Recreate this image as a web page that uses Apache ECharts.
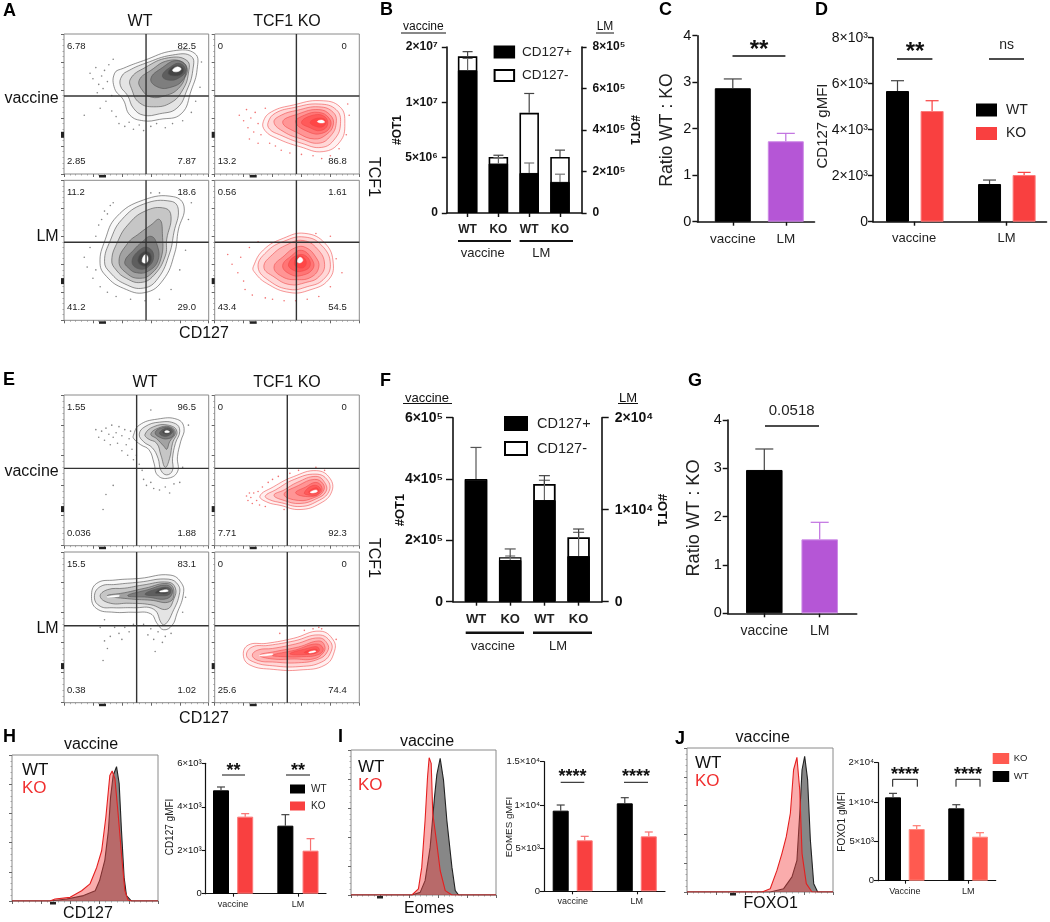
<!DOCTYPE html>
<html><head><meta charset="utf-8">
<style>html,body{margin:0;padding:0;background:#fff}#c{width:1050px;height:922px}</style>
<script src="https://cdn.jsdelivr.net/npm/echarts@6/dist/echarts.min.js"></script>
</head><body><div id="c"></div>
<script>
// ---------- bar data ----------
const bVacPos=[1.29e7,0.447e7], bVacNeg=[0.126e7,0.06e7], bVacPosErr=[1.397e7,0.5e7], bVacTotErr=[1.458e7,0.522e7];
const bLmPos=[1.93e5,1.5e5], bLmNeg=[2.9e5,1.2e5], bLmPosErr=[2.41e5,1.87e5], bLmTotErr=[5.76e5,3.03e5];
const bLeftTicks=['0','5×10⁶','1×10⁷','2×10⁷'], bRightTicks=['0','2×10⁵','4×10⁵','6×10⁵','8×10⁵'];
const cVals=[2.87,1.73], cErr=[3.07,1.9];
const dWT=[5681,1638], dWTErr=[6130,1811], dKO=[4812,2029], dKOErr=[5260,2145];
const dTicks=['0','2×10³','4×10³','6×10³','8×10³'];
const fVacPos=[3.98e5,1.36e5], fVacNeg=[0.02e5,0.09e5], fVacPosErr=[4.0e5,1.49e5], fVacTotErr=[5.03e5,1.72e5];
const fLmPos=[1.105e4,0.496e4], fLmNeg=[0.174e4,0.204e4], fLmPosErr=[1.32e4,0.754e4], fLmTotErr=[1.37e4,0.79e4];
const fLeftTicks=['0','2×10⁵','4×10⁵','6×10⁵'], fRightTicks=['0','1×10⁴','2×10⁴'];
const gVals=[2.966,1.53], gErr=[3.4,1.883];
const hWT=[4757,3130], hWTErr=[4910,3637], hKO=[3545,1980], hKOErr=[3683,2532];
const hTicks=['0','2×10³','4×10³','6×10³'];
const iWT=[9332,10180], iWTErr=[9987,10835], iKO=[5900,6362], iKOErr=[6362,6864];
const iTicks=['0','5×10³','1×10⁴','1.5×10⁴'];
const jWT=[10593,9195], jWTErr=[11102,9661], jKO=[6568,5593], jKOErr=[6992,6102];
const jTicks=['0','5×10³','1×10⁴','2×10⁴'];
// ---------- histogram data (fluorescence %, count %) ----------
const hWtHist=[[0,0],[26,0],[37.5,1.4],[49,3.7],[57,7],[60,14],[63.6,28],[66,48],[67.5,71],[69.3,86],[71.6,92],[73.4,80.5],[75,48],[76.8,16],[78.4,3.7],[81.8,0],[100,0]];
const hKoHist=[[0,0],[26,0],[29.5,1.4],[39.8,2.5],[47.7,7],[53.4,11.7],[58,23],[61.4,34.4],[64.3,57.5],[67,86],[68.6,89],[70.5,83.7],[72.7,59.6],[75,32],[77.3,7.1],[79.5,0.7],[81.8,0],[100,0]];
const iWtHist=[[0,0],[42,0],[47.7,1.8],[51.1,9.9],[54.6,33],[57.6,67.7],[59.2,83],[61.5,94.2],[63.8,79.2],[66.1,51.5],[69.6,19.2],[71.9,3],[74.2,0],[100,0]];
const iKoHist=[[0,0],[42,0],[46.5,4.2],[48.8,19.2],[51.1,51.5],[52.8,81.5],[53.9,94.7],[55.3,90.8],[56.4,56.2],[59.2,35.3],[61.5,16.9],[65,3],[69.6,0],[100,0]];
const jWtHist=[[0,0],[57,0],[66.2,2.3],[71.9,10.5],[75.3,22],[77.2,54],[78.8,84.9],[80.6,94.2],[82.6,78],[84.5,36],[86.8,5.8],[89.5,0],[100,0]];
const jKoHist=[[0,0],[51.4,0],[57,2.3],[61.6,15],[65,26.7],[68,38.4],[70.8,54.7],[73,84.9],[75.3,93.5],[77.2,71],[78.8,26.7],[81.7,5.8],[85.6,0],[100,0]];
// ---------- contour data (CD127 %, TCF1 %) ----------
const aWVacRings=[
[35,72,41,75.5,55,81,75.6,88,90.5,86,92,74.8,88,60,81,43,66,39,55,38,45.6,42,41,53,35,61],
[40,70,45,74,56,79,75,85,88,84,89,74,85,60,78,47,66,43,55,42,48,47,44,56,39,63],
[46,68,56,76,72,83,85,81,86,72,82,60,74,51,62,48,52,51,47,60],
[52,67,60,74,72,81,83,79,84,71,79,61,70,56,60,55,54,60],
[60,68,68,76,78,81,85,76,82,67,74,62,65,62],
[68,70,73,76,80,79,84,74,80,69,73,67],
[72,72,76,77,82,76,82,72,77,70]];
const aWVacPeak=[[75,74,78,76.5,81,75,78,73]];
const aWVacDots=[18,72,20,68,22,76,24,64,26,70,28,74,23,58,27,61,30,66,31,78,33,56,29,52,25,47,33,45,36,41,38,36,42,34,45,37,48,32,52,35,55,31,60,34,64,36,70,33,75,36,82,38,88,44,91,52,94,62,95,80,14,42,34,82];
const aKVacRings=[
[33.6,37.4,39.4,44.5,54.4,49.3,72.8,52.4,86.6,48,90,36,86.6,23,75,16,59,19.5,42.9,25.5,34.8,31],
[37,37,42,43.5,55,47.5,72,50,84,46,87,36,83,25,74,19,60,22,45,28,38,32],
[41,37,46,42,57,45.5,72,48,82,44,84,36,80,27,72,22,60,25,48,30],
[47,37,58,43,72,46,80,42,82,35,77,28,69,25,58,29],
[56,37,62,42,72,44,79,40,80,34,74,29,65,30],
[60,37,68,42,76,41,78,35,73,31,66,33],
[66,37,72,40,77,38,75,34,70,34]];
const aKVacPeak=[[71,37.5,74,38.5,76,37,73,36.5]];
const aKVacDots=[17,42,20,38,22,46,23,33,25,40,27,30,28,44,30,36,32,28,35,47,38,22,42,20,46,17,52,15,60,14,68,13,74,11,80,13,86,18,91,28,93,42,92,50,24,25,30,22];
const aWLmRings=[
[24.9,40.7,28.4,57.4,36.4,74,54.8,85.9,75.6,88.3,83,81,79,64.5,76.5,48,68.5,28.8,56,19.8,41,22.9,29.5,31.2],
[28,42,32,57,40,72,55,83,74,85,79,79,76,63,73,48,65,30,55,23,42,26,32,34],
[33,43,37,56,44,68,56,78,70,80,74,74,71,58,70,46,62,32,53,27,43,30,36,36],
[38,42,44,55,52,62,60,68,66,72,68,62,67,44,60,33,52,30,44,33],
[42,42,48,50,54,56,60,60,64,55,65,43,58,35,50,34,45,37],
[47,42,52,50,58,52,62,46,58,38,51,37],
[51,43,55,49,60,47,59,40,54,39]];
const aWLmPeak=[[54,42,56,47,58,45,57,41]];
const aWLmDots=[14,45,16,38,18,52,20,30,22,60,24,68,26,72,28,78,30,76,32,82,34,84,22,36,25,24,30,20,36,17,46,15,56,14,66,15,74,22,80,36,84,50,86,72,88,84,66,91,60,91];
const aKLmRings=[
[26.7,38.3,33.6,50.2,47.5,58.6,62.4,62.1,76.3,55,82,40.7,78.6,28.8,65.9,21.7,52,19.8,35.9,26.4,27.2,34.8],
[30,38,36,49,48,56.5,62,59.5,74,53.5,80,40,75,29,64,24,52,22,38,28],
[34,38,40,47,50,54,61,57,71,51,76,40,72,31,63,27,52,25.5,41,31],
[41,38,48,46,56,52,63,52,70,45,72,38,67,31,57,29,47,31],
[47,39,53,46,60,50,67,44,68,37,60,32,52,33],
[51,40,56,46,63,46,66,39,60,35,54,36],
[55,41,58,46,63,43,62,38,57,38]];
const aKLmPeak=[[57,42,59,45,61,43,59,41]];
const aKLmDots=[9,47,12,40,16,34,18,45,20,28,21,22,24,52,26,18,30,56,35,16,40,15,48,14,56,14,64,15,72,17,80,24,84,44,80,60,70,62,88,34];
const eWVacRings=[
[47.9,73,52,80,64.5,84,78.4,83.8,83,77.9,80.6,69,78.4,59,78.4,49,71.4,44.7,64.5,47,62.2,54.8,58.8,63.6,53,67,48.4,70.8],
[52,74,56,79,66,82,77,81,80,76,77,68,75,58,75,50,71,47,67,50,65,58,61,65,55,69],
[56,74,62,79,72,80,78,76,75,68,73,58,70,52,67,60,64,68,58,71],
[60,74,65,78,73,79,77,75,73,69,71,64,69,66,64,71],
[63,75,67,78,74,78,76,74,72,71,66,72],
[66,75,71,78,75,76,72,73,68,73],
[68,75.5,71,77,74,75.5,71,74]];
const eWVacPeak=[[69.5,75.5,71,76.5,73,75.5,71,75]];
const eWVacDots=[22,77,24,72,26,76,28,70,29,78,31,74,32,67,33,80,34,72,36,75,37,68,38,79,40,63,40,73,42,77,43,67,44,60,45,71,46,76,47,64,48,57,50,60,52,54,54,50,55,44,57,40,60,42,62,38,66,37,70,39,73,35,76,41,80,42,82,52,86,80,60,90,34,40,29,34,27,24];
const eKVacRings=[
[31.3,33,40.5,39,54.4,45.8,70.5,49.8,79.7,44.7,80.9,35.8,72.8,28,59,24,45.2,26.8,36,29],
[35,33,42,37,55,44,70,47.5,78,43.5,79,36,71,29.5,59,26,46,28.5,38,30.5],
[41,33.5,48,37,57,42,70,46,76,42,77,36,70,31,59,28,48,30],
[48,34,58,40,69,44,75,41,75,36,69,32,58,30],
[56,35,63,39,70,42,74,39,73,35,66,32.5],
[62,35,68,40,73,38,71,34,66,33.5],
[65,35.5,70,38.5,72,36.5,69,34.5]];
const eKVacPeak=[[66,35.5,70,37,71,36,68,35]];
const eKVacDots=[22,33,23,30,24,35,25,32,26,28,27,35,29,30,30,36,31,27,33,39,35,26,37,42,40,44,44,46,48,24,52,48,58,50,70,52,76,50];
const eWLmRings=[
[19,70.4,22.6,79.2,35.3,81.4,52.5,82.5,73.3,84.7,81.3,79.2,82.4,71.5,78,59,74.7,51.3,68.9,48.4,64.5,52.4,59.9,59,48.4,60,34.6,60,22.6,62.4],
[21,70,25,77,36,78.5,52,80,72,82,79,78,79.5,71,75,60,71,53,68,52,62,62,48,63,34,63,25,64],
[25,70.5,30,75,42,76,54,78,72,80,77,76,76,69,71,62,60,65,45,66,32,66],
[30,71,42,73,56,76,72,79,76,74,73,67,60,68,44,69],
[44,71,58,75,71,78,75,74,71,69,58,70],
[56,72,66,76,73,76,73,72,66,71],
[63,73,68,76,72,75,71,72.5,66,72.5]];
const eWLmPeak=[[66,74,71,75,72,74,67,73.5],[30,70.5,38,71.3,38,70.5,30,70]];
const eWLmDots=[25,50,28,41,30,36,27,28,32,44,35,50,38,46,40,42,42,50,45,47,48,52,55,52,58,45,60,49,62,42,65,47,68,40,70,44,74,46,84,70,82,60,63,34,28,55];
const eKLmRings=[
[19.8,31.6,23.3,38.3,36,39.4,54.4,42.7,72.8,47.5,82,41.6,82.7,33.8,76.3,25,59,21.7,40.5,22.1,24.4,25],
[22,31.5,26,37,37,38,55,41,72,45,80,40.5,80.5,34,74,27,59,24,40,24.5,27,27],
[26,31.5,30,35,40,36,56,39,72,43,78,39,78,34,72,29,58,26.5,40,27,30,28],
[31,31.5,42,34,58,37,72,41,76,38,75,33,68,29,55,29,40,29],
[40,31.5,56,35,70,39,75,36,72,32,60,30.5,48,30.5],
[52,32.5,64,36,71,37,72,34,64,32],
[62,33.5,68,35.5,71,35,69,33,64,32.8]];
const eKLmPeak=[[65,33.5,69,34.5,70,34,66,33],[31,31.5,40,32.5,40,31.8,31,31]];
const eKLmDots=[45,46,62,48,68,49,72,50,74,49,84,42];

// ---------- builders ----------
const FF='"Liberation Sans",Arial,sans-serif';
const grids=[],xAxes=[],yAxes=[],series=[],els=[],legends=[];
function T(text,x,y,o={}){els.push({type:'text',x,y,rotation:o.rot||0,silent:true,z:50,style:{text,fill:o.color||'#111',align:o.align||'center',textAlign:o.align||'center',verticalAlign:'middle',textVerticalAlign:'middle',font:(o.bold?'bold ':'')+(o.size||14)+'px '+FF}});}
function Ln(x1,y1,x2,y2,w,c){els.push({type:'line',silent:true,z:50,shape:{x1,y1,x2,y2},style:{stroke:c||'#111',lineWidth:w||1.5}});}
function Rc(x,y,w,h){els.push({type:'rect',silent:true,z:50,shape:{x,y,width:w,height:h},style:{fill:'#222'}});}
function pairs(f){const o=[];for(let i=0;i<f.length;i+=2)o.push([f[i],f[i+1]]);return o;}

function frameAxes(g){
  const ax=()=>({type:'value',min:0,max:100,interval:20,gridIndex:g,axisLine:{show:false},splitLine:{show:false},axisLabel:{show:false},
    axisTick:{show:true,length:3,lineStyle:{color:'#666',width:1}},minorTick:{show:true,splitNumber:5,length:1.5,lineStyle:{color:'#888',width:0.7}}});
  xAxes.push(ax()); const yi=yAxes.length; yAxes.push(ax());
  return {xi:xAxes.length-1,yi};
}
function rings(xi,yi,list,rgb,a0,da,stroke,z,lw){
  series.push({type:'custom',xAxisIndex:xi,yAxisIndex:yi,z,silent:true,clip:true,data:list.map((_,i)=>[i,i]),
    renderItem(p,api){const k=api.value(0),r=list[k];return{type:'polygon',shape:{points:pairs(r).map(q=>api.coord(q)),smooth:0.45},style:{fill:'rgba('+rgb+','+(a0+da*k)+')',stroke,lineWidth:lw}};}});
}
function flow(b,rs,peak,dots,red,gx,gy,q,clump){
  const g=grids.length;grids.push({left:b[0],top:b[1],width:b[2]-b[0],height:b[3]-b[1],show:true,borderColor:'#8a8a8a',borderWidth:1,backgroundColor:'#fff'});
  const {xi,yi}=frameAxes(g);
  series.push({type:'scatter',xAxisIndex:xi,yAxisIndex:yi,data:pairs(dots),symbolSize:1.6,silent:true,z:2,itemStyle:{color:red?'#ef5050':'#666'}});
  if(red) rings(xi,yi,rs,'255,40,40',0.07,0.055,'rgba(238,70,70,0.7)',3,0.8);
  else rings(xi,yi,rs,'30,30,30',0.03,0.06,'rgba(85,85,85,0.8)',3,0.8);
  rings(xi,yi,peak,'255,255,255',1,0,'#fff',4,0.5);
  series.push({type:'line',xAxisIndex:xi,yAxisIndex:yi,data:[[gx,0],[gx,100]],symbol:'none',silent:true,z:5,lineStyle:{color:'#333',width:1.4}});
  series.push({type:'line',xAxisIndex:xi,yAxisIndex:yi,data:[[0,gy],[100,gy]],symbol:'none',silent:true,z:5,lineStyle:{color:'#333',width:1.4}});
  const [x0,y0]=[b[0],b[1]],h=b[3]-b[1];
  T(q[0],x0+3,y0+12,{size:9.5,align:'left',color:'#222'});T(q[1],x0+132,y0+12,{size:9.5,align:'right',color:'#222'});
  T(q[2],x0+3,y0+h-12.5,{size:9.5,align:'left',color:'#222'});T(q[3],x0+132,y0+h-12.5,{size:9.5,align:'right',color:'#222'});
  Rc(x0-3,y0+h*clump-3,3,6);Rc(x0+35,b[3]+1,7,2.5);
}
function hist(b,wt,ko,cx){
  const g=grids.length;grids.push({left:b[0],top:b[1],width:b[2]-b[0],height:b[3]-b[1],show:true,borderColor:'#8a8a8a',borderWidth:1,backgroundColor:'#fff'});
  const {xi,yi}=frameAxes(g);
  series.push({type:'line',xAxisIndex:xi,yAxisIndex:yi,data:wt,symbol:'none',silent:true,z:3,lineStyle:{color:'#222',width:1.1},areaStyle:{color:'rgba(70,70,70,0.65)',opacity:1}});
  series.push({type:'line',xAxisIndex:xi,yAxisIndex:yi,data:ko,symbol:'none',silent:true,z:4,lineStyle:{color:'#e42020',width:1.1},areaStyle:{color:'rgba(245,70,70,0.45)',opacity:1}});
  Rc(cx,b[3]+1,6,2.5);
}
function nearest(arr,v){let k=0,d=1e18;arr.forEach((a,i)=>{if(Math.abs(a-v)<d){d=Math.abs(a-v);k=i;}});return k;}
function barGrid(p){
  const g=grids.length;grids.push({left:p.left,top:p.top,width:p.right-p.left,height:p.bottom-p.top});
  const lw=p.axisW||1.6;
  const xi=xAxes.length;
  xAxes.push({type:'value',gridIndex:g,min:(p.left-p.c0)/p.unit,max:(p.right-p.c0)/p.unit,position:'bottom',splitLine:{show:false},
    axisLine:{show:true,onZero:false,lineStyle:{color:'#111',width:lw}},
    axisTick:{show:true,length:p.xTick||4,customValues:p.xTicks,lineStyle:{color:'#111',width:lw*0.9}},
    axisLabel:{show:true,customValues:p.xTicks,margin:p.xMargin||8,color:'#222',fontFamily:FF,fontSize:p.xFont||13,fontWeight:p.xBold?'bold':'normal',formatter:v=>p.xLabels[nearest(p.xTicks,v)]}});
  const yIdx=p.y.map((a,k)=>{const i=yAxes.length;yAxes.push({type:'value',gridIndex:g,min:0,max:a.max,interval:a.interval,position:k?'right':'left',splitLine:{show:false},
    axisLine:{show:true,onZero:false,lineStyle:{color:'#111',width:lw}},
    axisTick:{show:true,length:p.yTick||5,lineStyle:{color:'#111',width:lw*0.9}},
    axisLabel:{show:true,margin:a.margin||p.yMargin||6,color:'#111',fontFamily:FF,fontSize:p.yFont||13,fontWeight:p.yBold?'bold':'normal',formatter:v=>a.labels[Math.round(v/a.interval)]}});return i;});
  return {xi,yIdx};
}
function bar(a,name,slots,vals,k,color,border,bw,width){
  series.push({type:'bar',name,xAxisIndex:a.xi,yAxisIndex:a.yIdx[k],barWidth:width,barGap:'-100%',z:2,silent:true,data:slots.map((s,i)=>[s,vals[i]]),
    itemStyle:{color,borderColor:border,borderWidth:bw}});
}
function err(a,slots,lo,hi,k,color,cap,w){
  series.push({type:'custom',xAxisIndex:a.xi,yAxisIndex:a.yIdx[k],z:4,silent:true,encode:{x:0,y:[1,2]},data:slots.map((s,i)=>[s,lo[i],hi[i]]),
    renderItem(p,api){const x=api.value(0),l=api.coord([x,api.value(1)]),h=api.coord([x,api.value(2)]);
      const st={stroke:color,lineWidth:w||1.2,fill:'none'};
      return{type:'group',children:[{type:'line',shape:{x1:l[0],y1:l[1],x2:h[0],y2:h[1]},style:st},{type:'line',shape:{x1:h[0]-cap,y1:h[1],x2:h[0]+cap,y2:h[1]},style:st}]};}});
}
const add=(a,b)=>a.map((v,i)=>v+b[i]);
function legend(left,top,names,cfg){legends.push({left,top,orient:'vertical',selectedMode:false,itemWidth:cfg.w,itemHeight:cfg.h,itemGap:cfg.gap,data:names,textStyle:{fontFamily:FF,fontSize:cfg.size,color:'#222',padding:[0,0,0,cfg.pad||0]},padding:0});}
const lgBlack={name:'CD127+',icon:'rect',itemStyle:{color:'#000',borderColor:'#000'}}, lgWhite={name:'CD127-',icon:'rect',itemStyle:{color:'#fff',borderColor:'#000',borderWidth:2}};
const lgWT={name:'WT',icon:'rect',itemStyle:{color:'#000',borderColor:'#000'}};
const lgKO=c=>({name:'KO',icon:'rect',itemStyle:{color:c,borderColor:c}});

// ---------- flow panels ----------
const colW=[64,208.7],colK=[214.7,359.3];
flow([colW[0],34,colW[1],174],aWVacRings,aWVacPeak,aWVacDots,false,56.7,55.7,['6.78','82.5','2.85','7.87'],0.72);
flow([colK[0],34,colK[1],174],aKVacRings,aKVacPeak,aKVacDots,true,56.5,55.7,['0','0','13.2','86.8'],0.72);
flow([colW[0],180.3,colW[1],320.3],aWLmRings,aWLmPeak,aWLmDots,false,56.7,55.7,['11.2','18.6','41.2','29.0'],0.72);
flow([colK[0],180.3,colK[1],320.3],aKLmRings,aKLmPeak,aKLmDots,true,56.5,55.7,['0.56','1.61','43.4','54.5'],0.72);
flow([colW[0],395,colW[1],545.7],eWVacRings,eWVacPeak,eWVacDots,false,50.2,51.3,['1.55','96.5','0.036','1.88'],0.757);
flow([colK[0],395,colK[1],545.7],eKVacRings,eKVacPeak,eKVacDots,true,50.2,51.3,['0','0','7.71','92.3'],0.757);
flow([colW[0],552,colW[1],702.7],eWLmRings,eWLmPeak,eWLmDots,false,50.2,51.1,['15.5','83.1','0.38','1.02'],0.757);
flow([colK[0],552,colK[1],702.7],eKLmRings,eKLmPeak,eKLmDots,true,50.2,51.1,['0','0','25.6','74.4'],0.757);
// ---------- histograms ----------
hist([12,755,158,901],hWtHist,hKoHist,50);
hist([351,750,496,895],iWtHist,iKoHist,377);
hist([687,748,833,892],jWtHist,jKoHist,730);

// ---------- B ----------
{const a=barGrid({left:446.8,right:581.6,top:47,bottom:213,c0:467.6,unit:30.8,xTicks:[0,1,2,3],xLabels:['WT','KO','WT','KO'],xBold:true,xFont:12,xMargin:11,yBold:true,yFont:12,axisW:1.6,
  y:[{max:1.5e7,interval:5e6,labels:bLeftTicks,margin:9},{max:8e5,interval:2e5,labels:bRightTicks,margin:11}]});
 bar(a,'CD127-',[0,1],add(bVacPos,bVacNeg),0,'#fff','#000',1.6,19.5);bar(a,'CD127+',[0,1],bVacPos,0,'#000','#000',1,19.5);
 bar(a,'CD127-',[2,3],add(bLmPos,bLmNeg),1,'#fff','#000',1.6,19.5);bar(a,'CD127+',[2,3],bLmPos,1,'#000','#000',1,19.5);
 err(a,[0,1],bVacPos,bVacPosErr,0,'#666',5);err(a,[0,1],add(bVacPos,bVacNeg),bVacTotErr,0,'#444',5);
 err(a,[2,3],bLmPos,bLmPosErr,1,'#777',5);err(a,[2,3],add(bLmPos,bLmNeg),bLmTotErr,1,'#444',5);
 legend(493.6,45,[lgBlack,lgWhite],{w:19.5,h:11,gap:9.5,size:13.5,pad:3});
}
// ---------- C ----------
{const a=barGrid({left:697.4,right:814.5,top:35.7,bottom:221.7,c0:732.8,unit:53,xTicks:[0,1],xLabels:['vaccine','LM'],xFont:13.5,xMargin:11,yFont:14.5,y:[{max:4,interval:1,labels:['0','1','2','3','4']}]});
 bar(a,'',[0],[cVals[0]],0,'#000','#000',1,36);bar(a,'',[1],[cVals[1]],0,'#b556d6','#cd8ae6',1,36);
 err(a,[0],[cVals[0]],[cErr[0]],0,'#444',9);err(a,[1],[cVals[1]],[cErr[1]],0,'#c070e0',9);
}
// ---------- D ----------
{const a=barGrid({left:873,right:1046.5,top:37.7,bottom:221.7,c0:897.5,unit:34.6,xTicks:[0.48,3.15],xLabels:['vaccine','LM'],xFont:13,xMargin:10,yFont:14,yMargin:5,
  y:[{max:8000,interval:2000,labels:dTicks}]});
 bar(a,'WT',[0,2.66],dWT,0,'#000','#000',1,23);bar(a,'KO',[1,3.66],dKO,0,'#f94040','#fb7a7a',1,23);
 err(a,[0,2.66],dWT,dWTErr,0,'#444',6.5);err(a,[1,3.66],dKO,dKOErr,0,'#f94040',6.5);
 legend(976,103,[lgWT,lgKO('#f94040')],{w:19,h:11,gap:9.5,size:14,pad:5});
}
// ---------- F ----------
{const a=barGrid({left:453,right:601.7,top:417.7,bottom:601.7,c0:476,unit:34.2,xTicks:[0,1,2,3],xLabels:['WT','KO','WT','KO'],xBold:true,xFont:13,xMargin:11,yBold:true,yFont:14,yTick:7,axisW:1.6,
  y:[{max:6e5,interval:2e5,labels:fLeftTicks,margin:10},{max:2e4,interval:1e4,labels:fRightTicks,margin:13}]});
 bar(a,'CD127-',[0,1],add(fVacPos,fVacNeg),0,'#fff','#000',1.2,22.5);bar(a,'CD127+',[0,1],fVacPos,0,'#000','#000',1,22.5);
 bar(a,'CD127-',[2,3],add(fLmPos,fLmNeg),1,'#fff','#000',1.8,22.5);bar(a,'CD127+',[2,3],fLmPos,1,'#000','#000',1,22.5);
 err(a,[1],[fVacPos[1]],[fVacPosErr[1]],0,'#777',5);err(a,[0,1],add(fVacPos,fVacNeg),fVacTotErr,0,'#555',5.5);
 err(a,[2,3],fLmPos,fLmPosErr,1,'#666',5.5);err(a,[2,3],add(fLmPos,fLmNeg),fLmTotErr,1,'#444',5.5);
 legend(504,416,[lgBlack,lgWhite],{w:22,h:13,gap:10,size:14.5,pad:5});
}
// ---------- G ----------
{const a=barGrid({left:727.7,right:856.7,top:420,bottom:613.3,c0:764.3,unit:55.4,xTicks:[0,1],xLabels:['vaccine','LM'],xFont:14,xMargin:11,yFont:14.5,y:[{max:4,interval:1,labels:['0','1','2','3','4']}]});
 bar(a,'',[0],[gVals[0]],0,'#000','#000',1,36.5);bar(a,'',[1],[gVals[1]],0,'#b556d6','#cd8ae6',1,36.5);
 err(a,[0],[gVals[0]],[gErr[0]],0,'#444',9);err(a,[1],[gVals[1]],[gErr[1]],0,'#c070e0',9);
}
// ---------- H ----------
{const a=barGrid({left:205.7,right:326,top:763.3,bottom:893.7,c0:221,unit:24.2,xTicks:[0.5,3.18],xLabels:['vaccine','LM'],xFont:9,xMargin:6,yFont:9.5,yMargin:4,yTick:4,axisW:1.2,xTick:3,
  y:[{max:6000,interval:2000,labels:hTicks}]});
 bar(a,'WT',[0,2.66],hWT,0,'#000','#000',1,16);bar(a,'KO',[1,3.7],hKO,0,'#f94040','#fb7a7a',1,16);
 err(a,[0,2.66],hWT,hWTErr,0,'#444',4);err(a,[1,3.7],hKO,hKOErr,0,'#f87070',4);
 legend(290,784,[lgWT,lgKO('#f94040')],{w:13,h:7,gap:7,size:10,pad:2});
}
// ---------- I ----------
{const a=barGrid({left:544,right:665,top:761.7,bottom:891.3,c0:560.7,unit:24,xTicks:[0.5,3.17],xLabels:['vaccine','LM'],xFont:9,xMargin:6,yFont:9.5,yMargin:4,yTick:4,axisW:1.2,xTick:3,
  y:[{max:15000,interval:5000,labels:iTicks}]});
 bar(a,'',[0,2.67],iWT,0,'#000','#000',1,16);bar(a,'',[1,3.67],iKO,0,'#f94040','#fb7a7a',1,16);
 err(a,[0,2.67],iWT,iWTErr,0,'#444',4);err(a,[1,3.67],iKO,iKOErr,0,'#f87070',4);
}
// ---------- J ----------
{const a=barGrid({left:878,right:995.7,top:762.7,bottom:880.7,c0:893,unit:23.7,xTicks:[0.5,3.17],xLabels:['Vaccine','LM'],xFont:9,xMargin:6,yFont:9.5,yMargin:4,yTick:4,axisW:1.2,xTick:3,
  y:[{max:15000,interval:5000,labels:jTicks}]});
 bar(a,'WT',[0,2.67],jWT,0,'#000','#000',1,16);bar(a,'KO',[1,3.67],jKO,0,'#ff5a50','#ff8a80',1,16);
 err(a,[0,2.67],jWT,jWTErr,0,'#444',4);err(a,[1,3.67],jKO,jKOErr,0,'#ff7a70',4);
 legend(992.7,753,[lgKO('#ff5a50'),lgWT],{w:14.5,h:9,gap:7,size:9.5,pad:0.5});
}
// ---------- annotations ----------
[['A',3,11],['B',380,10],['C',659,10],['D',815,10],['E',3,380],['F',380,381],['G',688,381],['H',3,737],['I',338,737],['J',675,739]].forEach(l=>T(l[0],l[1],l[2],{size:18,bold:true,align:'left',color:'#000'}));
const rotL=Math.PI/2, rotR=-Math.PI/2;
// A
T('WT',140,22,{size:16});T('TCF1 KO',287,22,{size:16});T('vaccine',58.7,99,{size:16,align:'right'});T('LM',58.7,237,{size:16,align:'right'});
T('TCF1',373,177,{size:16,rot:rotR});T('CD127',204,334,{size:16});
// E
T('WT',145,382.7,{size:16});T('TCF1 KO',287,382.7,{size:16});T('vaccine',58.7,471.7,{size:16,align:'right'});T('LM',58.7,629,{size:16,align:'right'});
T('TCF1',373,558,{size:16,rot:rotR});T('CD127',204,719,{size:16});
// B
T('vaccine',423.3,27,{size:12});Ln(401,33,446,33,1);T('LM',605,27,{size:12});Ln(596,33,614,33,1);
T('#OT1',398,130,{size:12,bold:true,rot:rotL});T('#OT1',634.5,130,{size:12,bold:true,rot:rotR});
Ln(458,241,511,241,2);Ln(519.6,241,573,241,2);T('vaccine',482.7,253,{size:13,color:'#222'});T('LM',541.3,253,{size:13,color:'#222'});
// C, D
T('Ratio WT : KO',667,130,{size:17.6,rot:rotL,color:'#222'});Ln(732.5,56,785.4,56,1.5);T('**',759,50,{size:24,bold:true});
T('CD127 gMFI',823,126,{size:15,rot:rotL,color:'#222'});Ln(897,59,932.4,59,1.5);T('**',915,52,{size:24,bold:true});Ln(989,59,1024,59,1.5);T('ns',1006.6,45,{size:14,color:'#222'});
// F
T('vaccine',427,398,{size:13});Ln(403,403.5,452,403.5,1);T('LM',628,398,{size:13});Ln(618,403.5,638,403.5,1);
T('#OT1',400,510,{size:13,bold:true,rot:rotL});T('#OT1',662,510,{size:13,bold:true,rot:rotR});
Ln(465.7,632.7,524,632.7,2.5);Ln(533,632.7,592,632.7,2.5);T('vaccine',493,646,{size:13,color:'#222'});T('LM',558,646,{size:13,color:'#222'});
// G
T('Ratio WT : KO',694,518,{size:18.2,rot:rotL,color:'#222'});T('0.0518',791.7,411,{size:15,color:'#222'});Ln(765,426,819,426,1.5);
// H
T('vaccine',91,745,{size:16});T('WT',22,770,{size:17,align:'left'});T('KO',22,788,{size:17,align:'left',color:'#f03030'});T('CD127',88,914,{size:16});
T('CD127 gMFI',170,827,{size:10,rot:rotL,color:'#222'});Ln(222,775,245,775,1);T('**',233.5,771,{size:18,bold:true});Ln(286,775,310,775,1);T('**',298,771,{size:18,bold:true});
// I
T('vaccine',427,741.7,{size:16});T('WT',358,767,{size:17,align:'left'});T('KO',358,785,{size:17,align:'left',color:'#f03030'});T('Eomes',429,909,{size:16});
T('EOMES gMFI',509,827,{size:9.8,rot:rotL,color:'#222'});Ln(560.7,782.3,584.3,782.3,1);T('****',572.5,777,{size:18,bold:true});Ln(624,782.3,648,782.3,1);T('****',636,777,{size:18,bold:true});
// J
T('vaccine',762.7,737.7,{size:16});T('WT',695,763,{size:17,align:'left'});T('KO',695,781.7,{size:17,align:'left',color:'#f03030'});T('FOXO1',770.7,904,{size:16});
T('FOXO1 gMFI',842.7,822,{size:10,rot:rotL,color:'#222'});T('****',905,775.5,{size:18,bold:true});T('****',968,775.5,{size:18,bold:true});
[[892.7,917.3],[956,980]].forEach(s=>{Ln(s[0],779.3,s[1],779.3,1);Ln(s[0],779.3,s[0],786.7,1);Ln(s[1],779.3,s[1],786.7,1);});

const chart=echarts.init(document.getElementById('c'),null,{renderer:'canvas'});
chart.setOption({animation:false,backgroundColor:'#fff',textStyle:{fontFamily:FF},tooltip:{show:false},grid:grids,xAxis:xAxes,yAxis:yAxes,series,legend:legends,graphic:{elements:els}});
</script></body></html>
